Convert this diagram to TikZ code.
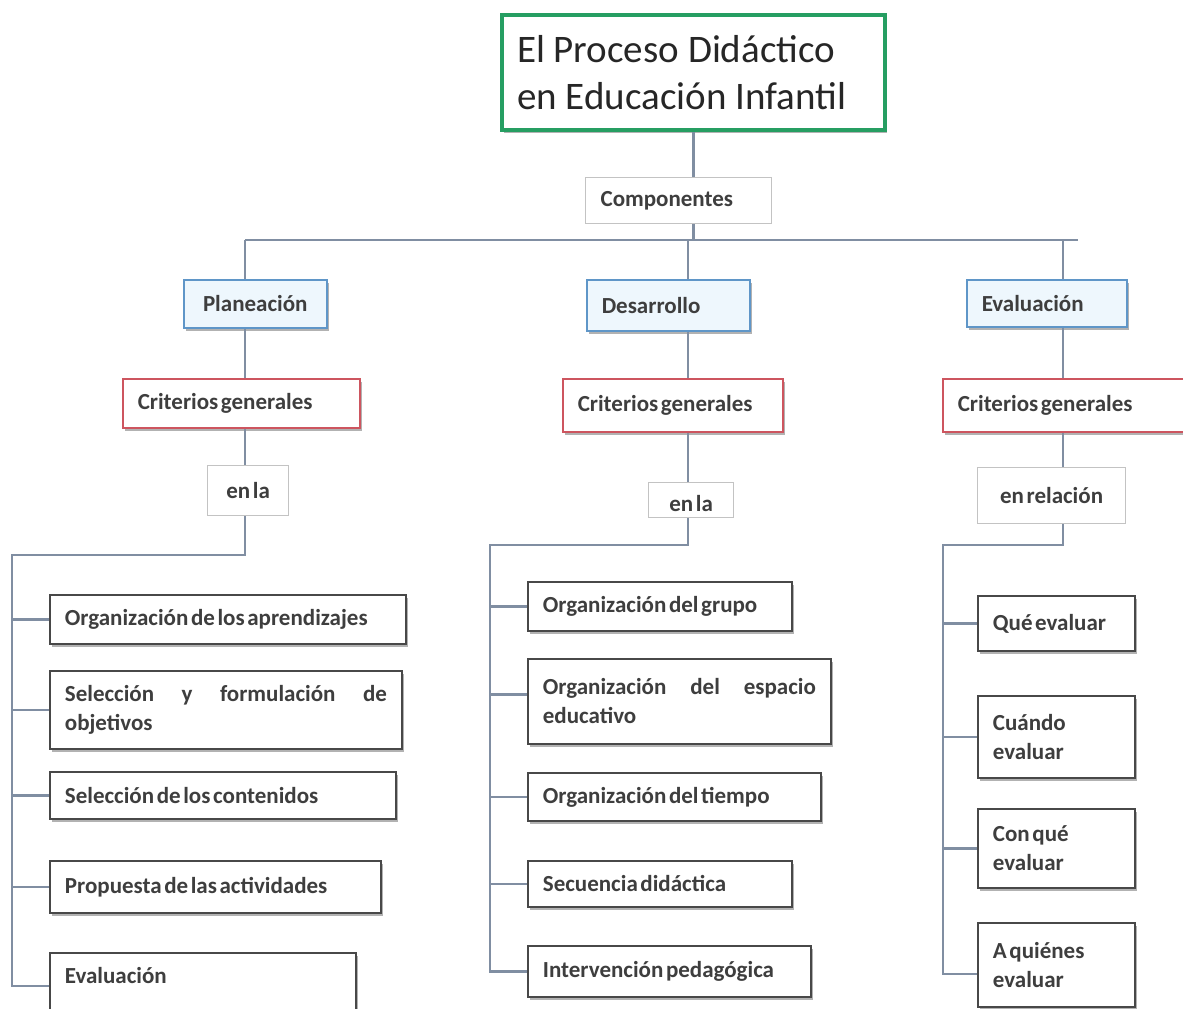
\documentclass[tikz,border=0pt]{standalone}
\usepackage{fontspec}
\setmainfont{Carlito}[BoldFeatures={WordSpace=0.5}]
\usetikzlibrary{shadows}

\definecolor{titlegreen}{RGB}{38,158,98}
\definecolor{linkgray}{RGB}{128,142,162}
\definecolor{phaseblue}{RGB}{95,150,200}
\definecolor{phasefill}{RGB}{238,247,253}
\definecolor{critred}{RGB}{205,85,95}
\definecolor{softgray}{RGB}{195,195,195}
\definecolor{leafgray}{RGB}{72,72,72}
\definecolor{textgray}{RGB}{62,62,62}
\hyphenpenalty=10000 \tolerance=10000 \hbadness=10000

\tikzset{
  box/.style={draw, anchor=north west, inner xsep=15pt, inner ysep=0pt, fill=white,
    text=textgray, font=\fontsize{23}{29}\selectfont\bfseries},
  shade box/.style={drop shadow={shadow xshift=2pt, shadow yshift=-3pt, opacity=.3, fill=black}},
  titlebox/.style={box, draw=titlegreen, line width=4pt, font=\fontsize{39}{47.5}\selectfont,
    text=black!85, align=flush left, shade box},
  phase/.style={box, draw=phaseblue, line width=1.5pt, fill=phasefill, align=flush left, shade box},
  crit/.style={box, draw=critred, line width=1.5pt, align=flush left, shade box},
  plain/.style={box, draw=softgray, line width=1.2pt, align=flush center},
  leaf/.style={box, draw=leafgray, line width=1.8pt, align=justify, shade box},
  link/.style={draw=linkgray, line width=2.7pt},
}

\begin{document}
\begin{tikzpicture}[x=1pt,y=-1pt]
  \useasboundingbox (0,0) rectangle (1183,1009);

  % top of the tree
  \node[titlebox, text width=353pt, minimum height=115pt] (title) at (500,13)
    {El Proceso Didáctico\\en Educación Infantil};
  \node[plain, align=flush left, text width=156pt, minimum height=46pt] (comp) at (585,177) {Componentes};

  % the three phases
  \node[phase, align=flush center, text width=113pt, minimum height=48pt] (planA) at (183,279) {Planeación};
  \node[phase, text width=133pt, minimum height=51pt] (planB) at (586,279) {Desarrollo};
  \node[phase, text width=130pt, minimum height=47pt] (planC) at (966,279) {Evaluación};

  \node[crit, text width=207pt, minimum height=49pt] (critA) at (122,378) {Criterios generales};
  \node[crit, text width=190pt, minimum height=53pt] (critB) at (562,378) {Criterios generales};
  \node[crit, text width=230pt, minimum height=53pt] (critC) at (942,378) {Criterios generales};

  \node[plain, text width=51pt, minimum height=50pt] (enA) at (207,465) {en la};
  \node[plain, text width=55pt, minimum height=35pt, text height=22pt] (enB) at (648,482) {en la};
  \node[plain, text width=118pt, minimum height=56pt] (enC) at (977,467) {en relación};

  % leaves of Planeacion
  \node[leaf, text width=326pt, minimum height=49pt] (a1) at (49,594) {Organización de los aprendizajes};
  \node[leaf, text width=322pt, minimum height=78pt] (a2) at (49,670) {Selección y formulación de objetivos};
  \node[leaf, text width=316pt, minimum height=47pt] (a3) at (49,771) {Selección de los contenidos};
  \node[leaf, text width=301pt, minimum height=52pt] (a4) at (49,860) {Propuesta de las actividades};
  \node[leaf, text width=276pt, minimum height=66pt, text depth=20pt] (a5) at (49,952) {Evaluación};

  % leaves of Desarrollo
  \node[leaf, text width=234pt, minimum height=49pt] (b1) at (527,581) {Organización del grupo};
  \node[leaf, text width=273pt, minimum height=85pt] (b2) at (527,658) {Organización del espacio educativo};
  \node[leaf, text width=263pt, minimum height=48pt] (b3) at (527,772) {Organización del tiempo};
  \node[leaf, text width=234pt, minimum height=46pt] (b4) at (527,860) {Secuencia didáctica};
  \node[leaf, text width=253pt, minimum height=51pt] (b5) at (527,945) {Intervención pedagógica};

  % leaves of Evaluacion
  \node[leaf, align=flush left, text width=127pt, minimum height=55pt] (c1) at (977,595) {Qué evaluar};
  \node[leaf, align=flush left, text width=127pt, minimum height=82pt] (c2) at (977,695) {Cuándo evaluar};
  \node[leaf, align=flush left, text width=127pt, minimum height=79pt] (c3) at (977,808) {Con qué evaluar};
  \node[leaf, align=flush left, text width=127pt, minimum height=84pt] (c4) at (977,922) {A quiénes evaluar};

  % connectors
  \coordinate (barA) at (245,240);
  \coordinate (barB) at (688,240);
  \coordinate (barC) at (1063,240);
  \coordinate (barR) at (1078,240);
  \draw[link] (barA) -- (barR);
  \draw[link] (title.south) -- (title.south |- comp.north);
  \draw[link] (title.south |- comp.south) -- (title.south |- barA);

  \draw[link] (barA) -- (barA |- planA.north);
  \draw[link] (barA |- planA.south) -- (barA |- critA.north);
  \draw[link] (barA |- critA.south) -- (barA |- enA.north);
  \coordinate (spineA) at (12,555);
  \draw[link] (barA |- enA.south) |- (spineA) -- (spineA |- a5.west) -- (a5.west);
  \foreach \n in {a1,a2,a3,a4}
    \draw[link] (spineA |- \n.west) -- (\n.west);

  \draw[link] (barB) -- (barB |- planB.north);
  \draw[link] (barB |- planB.south) -- (barB |- critB.north);
  \draw[link] (barB |- critB.south) -- (barB |- enB.north);
  \coordinate (spineB) at (490,545);
  \coordinate (b2in) at ([yshift=7pt]b2.west);
  \draw[link] (barB |- enB.south) |- (spineB) -- (spineB |- b5.west) -- (b5.west);
  \foreach \n in {b1,b2in,b3,b4}
    \draw[link] (spineB |- \n.west) -- (\n.west);

  \draw[link] (barC) -- (barC |- planC.north);
  \draw[link] (barC |- planC.south) -- (barC |- critC.north);
  \draw[link] (barC |- critC.south) -- (barC |- enC.north);
  \coordinate (spineC) at (943,545);
  \coordinate (c4in) at ([yshift=-9pt]c4.west);
  \draw[link] (barC |- enC.south) |- (spineC) -- (spineC |- c4in) -- (c4in);
  \foreach \n in {c1,c2,c3}
    \draw[link] (spineC |- \n.west) -- (\n.west);
\end{tikzpicture}
\end{document}
